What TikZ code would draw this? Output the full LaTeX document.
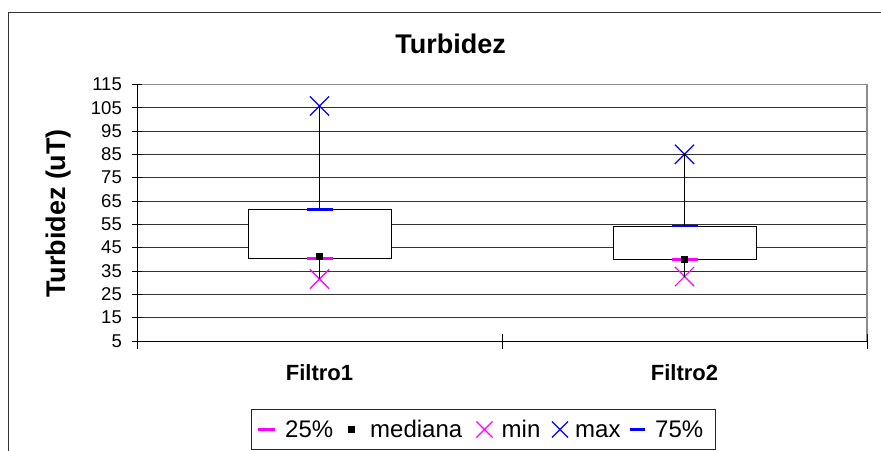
\documentclass[tikz,border=0pt]{standalone}
\usepackage{fontspec}
\setmainfont{Liberation Sans}
\usetikzlibrary{shapes.misc}

\definecolor{pmag}{RGB}{255,0,255}
\definecolor{pblue}{RGB}{0,0,255}
\tikzset{
  gridline/.style={draw=black!80, line width=0.9pt},
  boxfill/.style={draw=black, fill=white, line width=0.9pt},
  quart/.style={minimum width=26pt, minimum height=2.8pt, inner sep=0pt},
  medmark/.style={fill=black, minimum size=7.6pt, inner sep=0pt},
  xmark/.style={cross out, line width=1.2pt, minimum size=18pt, inner sep=0pt},
  ticklabel/.style={anchor=east, inner sep=0pt, font=\fontsize{18.5}{20}\selectfont},
  legtext/.style={anchor=base west, inner sep=0pt, font=\fontsize{24}{26}\selectfont},
}
\newcommand{\valy}[1]{341-(#1-5)*2.3336}

\begin{document}
\begin{tikzpicture}[x=1pt,y=-1pt]
\useasboundingbox (0,0) rectangle (881,450);
\draw[black!80, line width=1.3pt] (8.7,452) -- (8.7,12.7) -- (883,12.7);
\node[font=\fontsize{27}{30}\selectfont\bfseries] (title) at (450.5,44) {Turbidez};
\node[rotate=90, font=\fontsize{27}{30}\selectfont\bfseries] (ylabel) at (58.5,213.5) {Turbidez (uT)};
\foreach \v in {15,25,...,105}
  \draw[gridline] (137,{\valy{\v}}) -- (867,{\valy{\v}});
\draw[black!45, line width=1.5pt] (137,{\valy{115}}) -- (867,{\valy{115}}) -- (867,341);
\draw[black, line width=1pt] (137,{\valy{115}}) -- (137,341) -- (867,341);
\foreach \v in {5,15,...,115} {
  \draw[line width=0.9pt] (132,{\valy{\v}}) -- (142,{\valy{\v}});
  \node[ticklabel] (tick\v) at (122,{\valy{\v}}) {\v};
}
\foreach \x in {137,502,867}
  \draw[line width=0.9pt] (\x,334) -- (\x,348.5);
\node[font=\fontsize{22}{24}\selectfont\bfseries] (cat1) at (319.5,373) {Filtro1};
\node[font=\fontsize{22}{24}\selectfont\bfseries] (cat2) at (684.5,373) {Filtro2};
\foreach \n/\c/\qa/\me/\qc/\mi/\ma in {a/319.5/40.5/41.2/61.5/31.6/105.7, b/684.5/40/40/54.3/32.6/85} {
  \coordinate (\n q1) at (\c,{\valy{\qa}});
  \coordinate (\n q3) at (\c,{\valy{\qc}});
  \draw[boxfill] (\c-71.5,{\valy{\qc}}) rectangle (\c+71.5,{\valy{\qa}});
  \node[xmark, draw=pblue] (\n max) at (\c,{\valy{\ma}}) {};
  \node[xmark, draw=pmag] (\n min) at (\c,{\valy{\mi}}) {};
  \draw[line width=0.9pt] (\n max.center) -- (\n q3);
  \draw[line width=0.9pt] (\n q1) -- (\n min.center);
  \node[quart, fill=pblue] (\n p75) at (\n q3) {};
  \node[quart, fill=pmag] (\n p25) at (\n q1) {};
  \node[medmark] (\n med) at (\c,{\valy{\me}}) {};
}
\draw[black!85, line width=1pt, fill=white] (251.7,409.3) rectangle (715,449.3);
\node[quart, fill=pmag, minimum width=17pt] (leg25) at (266.5,429.5) {};
\node[legtext] (t25) at (285,437.7) {25\%};
\node[medmark, minimum size=7pt] (legmed) at (351,429.5) {};
\node[legtext] (tmed) at (370,437.7) {mediana};
\node[xmark, draw=pmag, minimum size=15pt, line width=1.1pt] (legmin) at (484.5,429.5) {};
\node[legtext] (tmin) at (501.5,437.7) {min};
\node[xmark, draw=pblue, minimum size=15pt, line width=1.1pt] (legmax) at (560,429.5) {};
\node[legtext] (tmax) at (575,437.7) {max};
\node[quart, fill=pblue, minimum width=15pt] (leg75) at (637.5,429.5) {};
\node[legtext] (t75) at (655,437.7) {75\%};
\end{tikzpicture}
\end{document}
